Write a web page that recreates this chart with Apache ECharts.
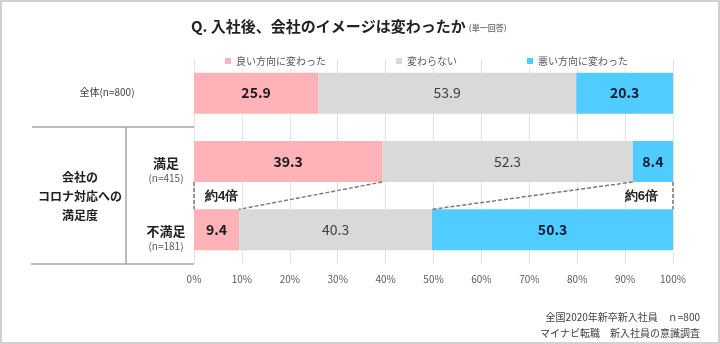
<!DOCTYPE html>
<html>
<head>
<meta charset="utf-8">
<script src="https://cdn.jsdelivr.net/npm/echarts@6/dist/echarts.min.js"></script>
<style>
html,body{margin:0;padding:0;background:#fff;}
#chart{width:720px;height:344px;}
</style>
</head>
<body>
<div id="chart"></div>
<script>
const categories = ['全体', '満足', '不満足'];
const sampleSizes = [800, 415, 181];
const seriesNames = ['良い方向に変わった', '変わらない', '悪い方向に変わった'];
const goodValues = [25.9, 39.3, 9.4];
const sameValues = [53.9, 52.3, 40.3];
const badValues = [20.3, 8.4, 50.3];
const ratioLabels = ['約4倍', '約6倍'];
const groupLabelLines = ['会社の', 'コロナ対応への', '満足度'];
const titleText = 'Q. 入社後、会社のイメージは変わったか';
const titleNote = '(単一回答)';
const footerLines = ['全国2020年新卒新入社員　ｎ=800', 'マイナビ転職　新入社員の意識調査'];

const FONT = '"Noto Sans CJK JP", "Noto Sans", sans-serif';
const COLORS = ['#FFB3B8', '#D9D9D9', '#50CCFF'];
const BAR_W = 41;

const chart = echarts.init(document.getElementById('chart'), null, {renderer: 'canvas'});

function barLabel(bold, color) {
  return {
    show: true, position: 'inside', fontSize: 14, fontWeight: bold ? 'bold' : 'normal',
    color: color, fontFamily: FONT,
    formatter: p => Number(p.value).toFixed(1)
  };
}

// connector data: [x at upper bar, upper cat, x at lower bar, lower cat, edge x]
const connectors = [
  [goodValues[1], 1, goodValues[2], 2, 0],
  [goodValues[1] + sameValues[1], 1, goodValues[2] + sameValues[2], 2, 100]
];

const legendBase = {
  top: 54, icon: 'rect', itemWidth: 6, itemHeight: 6, padding: [2, 4],
  backgroundColor: '#fff', selectedMode: false,
  textStyle: {fontSize: 10, color: '#595959', fontFamily: FONT}
};

const option = {
  animation: false,
  textStyle: {fontFamily: FONT},
  title: {
    left: 186, top: 11,
    text: '{a|' + titleText + '}{b|' + titleNote + '}',
    textStyle: {
      rich: {
        a: {fontSize: 15, fontWeight: 'bold', color: '#222', fontFamily: FONT, lineHeight: 20},
        b: {fontSize: 8, color: '#7f7f7f', fontFamily: FONT, padding: [3, 0, 0, 3]}
      }
    }
  },
  legend: [
    Object.assign({}, legendBase, {left: 221, data: [seriesNames[0]]}),
    Object.assign({}, legendBase, {left: 392, data: [seriesNames[1]]}),
    Object.assign({}, legendBase, {left: 523, data: [seriesNames[2]]})
  ],
  grid: {left: 194, right: 47, top: 59, bottom: 80, containLabel: false},
  xAxis: {
    type: 'value', min: 0, max: 100, interval: 10,
    axisLine: {show: false}, axisTick: {show: false},
    axisLabel: {formatter: '{value}%', fontSize: 10, color: '#595959', margin: 10, fontFamily: FONT},
    splitLine: {show: true, lineStyle: {color: '#E3E3E3', width: 1}}
  },
  yAxis: {
    type: 'category', inverse: true, data: categories,
    axisLine: {show: false}, axisTick: {show: false},
    axisLabel: {
      align: 'center', margin: 28, padding: [18, 0, 0, 0],
      formatter: (v, i) => {
        if (i === 0) return '{all|' + v + '(n=' + sampleSizes[i] + ')}';
        return '{b|' + v + '}\n{n|(n=' + sampleSizes[i] + ')}';
      },
      rich: {
        all: {fontSize: 10, color: '#404040', fontFamily: FONT, padding: [0, 118, 20, 0], lineHeight: 14},
        b: {fontSize: 13, fontWeight: 'bold', color: '#222', fontFamily: FONT, lineHeight: 15},
        n: {fontSize: 10, color: '#595959', fontFamily: FONT, lineHeight: 15}
      }
    }
  },
  series: [
    {name: seriesNames[0], type: 'bar', stack: 'total', barWidth: BAR_W, data: goodValues,
     itemStyle: {color: COLORS[0]}, label: barLabel(true, '#1a1a1a')},
    {name: seriesNames[1], type: 'bar', stack: 'total', barWidth: BAR_W, data: sameValues,
     itemStyle: {color: COLORS[1]}, label: barLabel(false, '#404040')},
    {name: seriesNames[2], type: 'bar', stack: 'total', barWidth: BAR_W, data: badValues,
     itemStyle: {color: COLORS[2]}, label: barLabel(true, '#0d1a33')},
    {
      type: 'custom', name: 'connectors', silent: true, z: 5,
      encode: {x: [0, 2, 4], y: [1, 3]},
      data: connectors,
      renderItem: function (params, api) {
        const p1 = api.coord([api.value(0), api.value(1)]);
        const p2 = api.coord([api.value(2), api.value(3)]);
        const pe = api.coord([api.value(4), api.value(1)]);
        const yTop = p1[1] + BAR_W / 2;
        const yBot = p2[1] - BAR_W / 2;
        const style = {stroke: '#7a7a7a', lineWidth: 1.5, lineDash: [4, 2]};
        const isLeft = params.dataIndex === 0;
        return {
          type: 'group',
          children: [
            {type: 'line', shape: {x1: p1[0], y1: yTop, x2: p2[0], y2: yBot}, style: style},
            {type: 'line', shape: {x1: pe[0], y1: yTop, x2: pe[0], y2: yBot}, style: style},
            {type: 'text', x: isLeft ? pe[0] + 11 : pe[0] - 15, y: (yTop + yBot) / 2 + 1,
             style: {text: ratioLabels[params.dataIndex], fontSize: 13, fontWeight: 'bold',
                     fill: '#222', font: 'bold 13px ' + FONT,
                     align: isLeft ? 'left' : 'right', verticalAlign: 'middle'}}
          ]
        };
      }
    }
  ],
  graphic: [
    {type: 'rect', shape: {x: 1, y: 1, width: 718, height: 342}, style: {fill: 'none', stroke: '#C4C4C4', lineWidth: 1.5}, z: 100},
    {type: 'line', shape: {x1: 32, y1: 127, x2: 194, y2: 127}, style: {stroke: '#A6A6A6', lineWidth: 1.5}},
    {type: 'line', shape: {x1: 126, y1: 127, x2: 126, y2: 264}, style: {stroke: '#A6A6A6', lineWidth: 1.5}},
    {type: 'line', shape: {x1: 31, y1: 264, x2: 194, y2: 264}, style: {stroke: '#A6A6A6', lineWidth: 1.5}},
    {type: 'text', x: 80, y: 196,
     style: {text: groupLabelLines.join('\n'), font: 'bold 12px ' + FONT, fill: '#222',
             align: 'center', verticalAlign: 'middle', lineHeight: 19}},
    {type: 'text', x: 700, y: 317,
     style: {text: footerLines[0], font: '10px ' + FONT, fill: '#404040', align: 'right', verticalAlign: 'middle'}},
    {type: 'text', x: 700, y: 333,
     style: {text: footerLines[1], font: '10px ' + FONT, fill: '#404040', align: 'right', verticalAlign: 'middle'}}
  ]
};

chart.setOption(option);
</script>
</body>
</html>
